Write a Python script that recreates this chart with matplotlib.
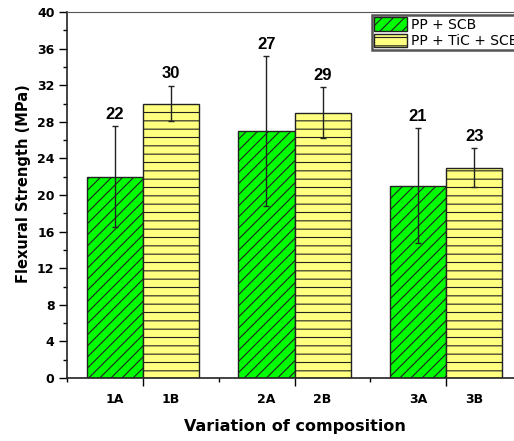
import matplotlib
matplotlib.use("Agg")
import matplotlib.pyplot as plt
from matplotlib.ticker import MultipleLocator, FixedLocator
import numpy as np

groups = [1, 3, 5]
labels_a = ["1A", "2A", "3A"]
labels_b = ["1B", "2B", "3B"]
pp_scb = [22, 27, 21]
pp_scb_err = [5.5, 8.15, 6.3]
pp_tic_scb = [30, 29, 23]
pp_tic_scb_err = [1.95, 2.75, 2.15]
series_names = ["PP + SCB", "PP + TiC + SCB"]

plt.rcParams.update({
    "font.family": ["DejaVu Sans"],
    "hatch.linewidth": 0.8,
})

fig = plt.figure(figsize=(5.14, 4.41), dpi=100)
ax = fig.add_axes([67 / 514, 63 / 441, 455 / 514, 366 / 441])

width = 0.74
x = np.array(groups, dtype=float)
xa = x - width / 2
xb = x + width / 2

ax.bar(xa, pp_scb, width=width, color="#00ff00", edgecolor="#222222",
       linewidth=1.0, hatch="///", label=series_names[0], zorder=2)
ax.bar(xb, pp_tic_scb, width=width, color="#ffff80", edgecolor="#222222",
       linewidth=1.0, hatch="--", label=series_names[1], zorder=2)

ax.errorbar(xa, pp_scb, yerr=pp_scb_err, fmt="none", ecolor="#222222",
            elinewidth=1.0, capsize=2.5, capthick=1.0, zorder=3)
ax.errorbar(xb, pp_tic_scb, yerr=pp_tic_scb_err, fmt="none", ecolor="#222222",
            elinewidth=1.0, capsize=2.5, capthick=1.0, zorder=3)

for xs, vals, errs in [(xa, pp_scb, pp_scb_err), (xb, pp_tic_scb, pp_tic_scb_err)]:
    for xi, v, e in zip(xs, vals, errs):
        ax.annotate(f"{v}", (xi, v + e), xytext=(0, 3), textcoords="offset points",
                    ha="center", va="bottom", fontsize=12, fontweight="bold",
                    family="Liberation Sans")

ax.set_xlim(0, 6)
ax.set_ylim(0, 40)
ax.yaxis.set_major_locator(MultipleLocator(4))
ax.yaxis.set_minor_locator(MultipleLocator(2))
ax.xaxis.set_major_locator(FixedLocator(groups))
ax.xaxis.set_minor_locator(FixedLocator([0, 2, 4, 6]))
ax.xaxis.set_major_formatter(plt.NullFormatter())
ax.tick_params(axis="x", which="major", length=6, width=1.0, direction="out")
ax.tick_params(axis="x", which="minor", length=3, width=1.0, direction="out")
ax.tick_params(axis="y", which="major", length=6, width=1.0, direction="out",
               labelsize=9, pad=3)
ax.tick_params(axis="y", which="minor", length=3, width=1.0, direction="out")
for lab in ax.get_yticklabels():
    lab.set_fontweight("bold")

# bar-name labels under each bar
sec = ax.secondary_xaxis("bottom")
sec.set_xticks(list(xa) + list(xb), labels_a + labels_b)
sec.tick_params(length=0, pad=10.5, labelsize=9)
sec.spines["bottom"].set_visible(False)
for lab in sec.get_xticklabels():
    lab.set_fontweight("bold")

for side in ["left", "bottom"]:
    ax.spines[side].set_linewidth(1.2)
    ax.spines[side].set_color("#222222")
ax.spines["top"].set_linewidth(0.8)
ax.spines["top"].set_color("#555555")

ax.set_ylabel("Flexural Strength (MPa)", fontsize=10.5, fontweight="bold")
ax.yaxis.set_label_coords(-0.08, 0.53)
sec.set_xlabel("Variation of composition", fontsize=11.5, fontweight="bold", labelpad=10)

leg = ax.legend(loc="upper left", bbox_to_anchor=(0.670, 0.992), fontsize=10,
                frameon=True, fancybox=False, framealpha=1, edgecolor="#555555",
                handlelength=2.4, handleheight=1.15, handletextpad=0.3,
                labelspacing=0.15, borderpad=0.15, borderaxespad=0)
leg.get_frame().set_linewidth(1.8)

fig.savefig("out.png", dpi=100, facecolor="white")
